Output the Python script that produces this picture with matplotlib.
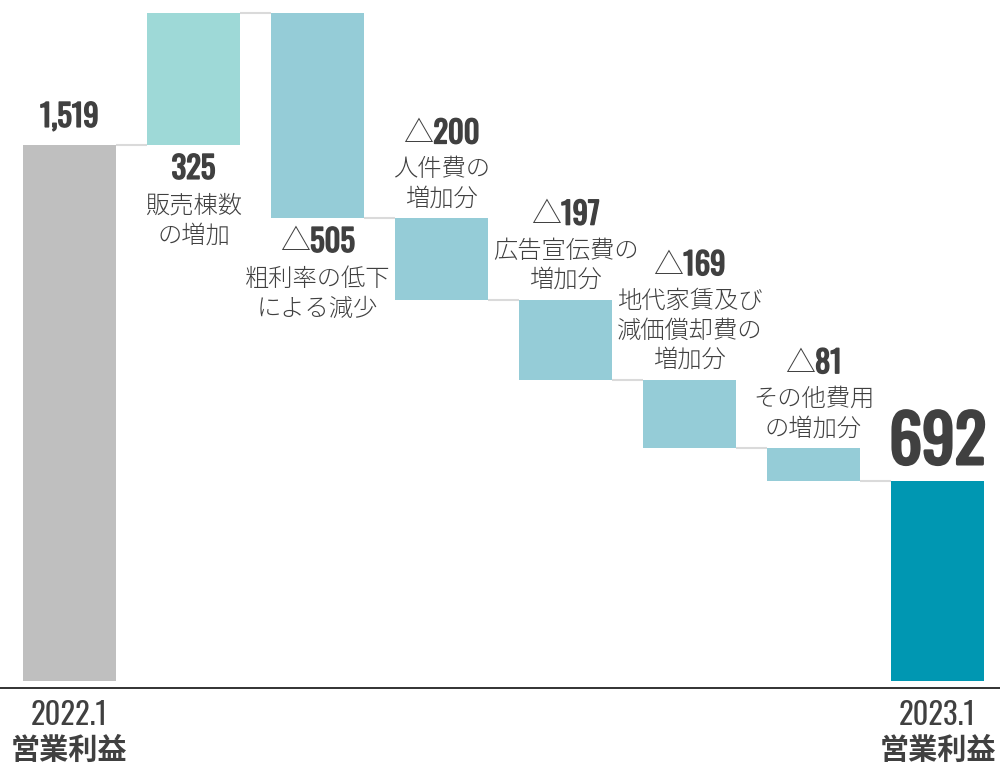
import matplotlib
matplotlib.use("Agg")
import matplotlib.pyplot as plt
import matplotlib.patheffects as pe

# operating profit bridge, 2022.1 -> 2023.1
start_value = 1519
end_value = 692
deltas = [325, -505, -200, -197, -169, -81]
delta_texts = [
    ["販売棟数", "の増加"],
    ["粗利率の低下", "による減少"],
    ["人件費の", "増加分"],
    ["広告宣伝費の", "増加分"],
    ["地代家賃及び", "減価償却費の", "増加分"],
    ["その他費用", "の増加分"],
]
period_labels = ["2022.1", "2023.1"]
total_caption = "営業利益"
NEG_MARK = "△"

AXIS_FLOOR = 200  # bars start here, axis is truncated

GRAY = "#bfbfbf"
UP = "#9ed9d7"
DOWN = "#95ccd7"
END = "#0097b2"
TEXT = "#404040"
CONNECT = "#dadada"

NUM_FAMILY = ["Oswald", "DejaVu Sans"]
JP_FAMILY = ["Noto Sans CJK JP", "DejaVu Sans"]

PX = 0.72  # points per pixel at dpi 100

fig = plt.figure(figsize=(10, 7.66), dpi=100)
ax = fig.add_axes([0, 1 - 688 / 766, 1, 688 / 766])
renderer = fig.canvas.get_renderer()

n = len(deltas)
width = 0.75

# running levels
levels = [start_value]
for d in deltas:
    levels.append(levels[-1] + d)

# start bar
ax.bar(0, start_value - AXIS_FLOOR, bottom=AXIS_FLOOR, width=width, color=GRAY, zorder=2)

# change bars
for i, d in enumerate(deltas):
    x = i + 1
    lo = min(levels[i], levels[i + 1])
    ax.bar(x, abs(d), bottom=lo, width=width, color=UP if d > 0 else DOWN, zorder=2)

# end bar
ax.bar(n + 1, end_value - AXIS_FLOOR, bottom=AXIS_FLOOR, width=width, color=END, zorder=2)

# connectors between neighbouring bars
conn_levels = levels + [end_value]
for i in range(n + 1):
    ax.plot([i + width / 2, i + 1 - width / 2], [conn_levels[i], conn_levels[i]],
            color=CONNECT, lw=1.5, zorder=1, solid_capstyle="butt")


def label(x, y, text, dy_px, size, family, weight="normal", dx_px=0, ha="center", stroke=0):
    effects = [pe.withStroke(linewidth=stroke, foreground=TEXT)] if stroke else None
    return ax.annotate(text, xy=(x, y), xytext=(dx_px * PX, dy_px * PX), textcoords="offset points",
                       ha=ha, va="center", fontsize=size, color=TEXT, family=family,
                       fontweight=weight, annotation_clip=False, path_effects=effects)


def value_label(x, y, value, dy_px, size=22, stroke=1.1):
    num = f"{abs(value):,}"
    if value >= 0:
        label(x, y, num, dy_px, size, NUM_FAMILY, stroke=stroke)
        return
    # thin triangle mark followed by the bold figure, centred as one group
    tri = label(x, y, NEG_MARK, dy_px + 1, size * 0.98, JP_FAMILY, "light", ha="right")
    txt = label(x, y, num, dy_px, size, NUM_FAMILY, ha="left", stroke=stroke)
    w_tri = tri.get_window_extent(renderer).width
    w_num = txt.get_window_extent(renderer).width
    shift = (w_tri - w_num) / 2
    tri.xyann = (shift * PX, tri.xyann[1])
    txt.xyann = (shift * PX, txt.xyann[1])


value_label(0, start_value, start_value, 28)

for i, d in enumerate(deltas):
    x = i + 1
    lines = delta_texts[i]
    if d > 0 or i == 1:
        # text under the bar
        y = min(levels[i], levels[i + 1])
        value_label(x, y, d, -24)
        for k, line in enumerate(lines):
            label(x, y, line, -61 - 30 * k, 17.5, JP_FAMILY, "light")
    else:
        # text stacked above the bar
        y = levels[i]
        m = len(lines)
        for k, line in enumerate(lines):
            label(x, y, line, 19 + 29.5 * (m - 1 - k), 17.5, JP_FAMILY, "light")
        value_label(x, y, d, 19 + 29.5 * (m - 1) + 36)

value_label(n + 1, end_value, end_value, 37, size=47, stroke=2.2)

# period captions below the axis
for x, period in zip([0, n + 1], period_labels):
    label(x, AXIS_FLOOR, period, -35, 22, NUM_FAMILY, "light")
    label(x, AXIS_FLOOR, total_caption, -69, 21, JP_FAMILY, "bold")

ax.set_xlim(-0.56, n + 1.504)
ax.set_ylim(182, 1877)
for side in ["top", "right", "left"]:
    ax.spines[side].set_visible(False)
ax.spines["bottom"].set_color("#222222")
ax.spines["bottom"].set_linewidth(1.3)
ax.set_xticks([])
ax.set_yticks([])
ax.patch.set_alpha(0)

fig.savefig("out.png", dpi=100, facecolor="white")
